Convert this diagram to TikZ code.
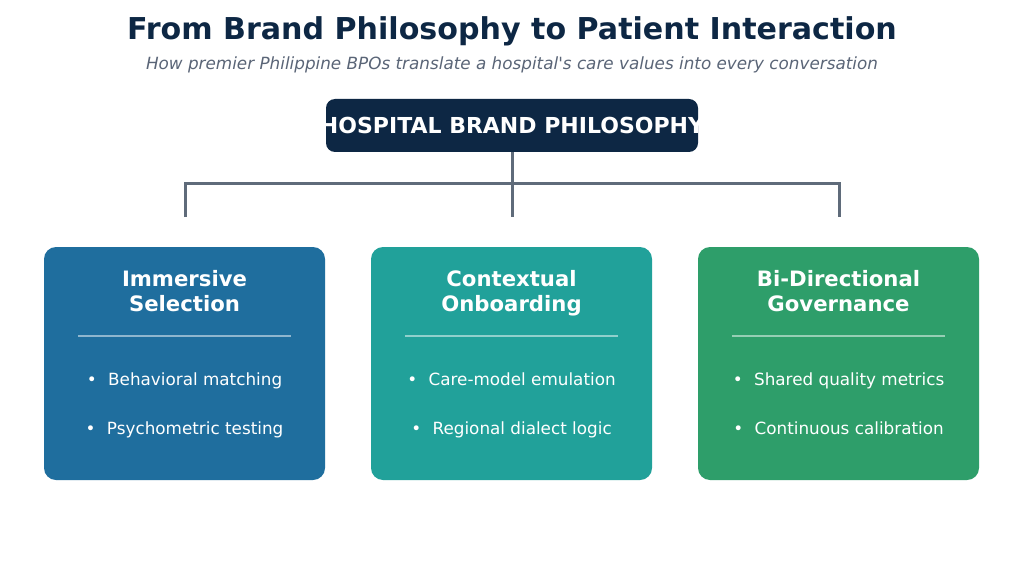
\documentclass[tikz,border=0pt]{standalone}
\usepackage{fontspec}
\setmainfont{DejaVu Sans}
\definecolor{navy}{HTML}{0D2744}
\definecolor{subgray}{HTML}{5A6577}
\definecolor{linegray}{HTML}{5F6B7A}
\definecolor{cblue}{HTML}{1F6E9E}
\definecolor{cteal}{HTML}{21A19A}
\definecolor{cgreen}{HTML}{2E9E6A}
\tikzset{
  card/.style={draw=none, rounded corners=12pt, minimum width=281pt, minimum height=233pt, inner sep=0pt},
  cardtitle/.style={text=white, font=\fontsize{21.2}{25}\selectfont\bfseries, align=center, anchor=base},
  bullet/.style={text=white, font=\fontsize{16.8}{19}\selectfont, anchor=base},
  divider/.style={draw=white, draw opacity=0.5, line width=1.8pt},
  conn/.style={draw=linegray, line width=3pt},
}
\newcommand{\bul}[1]{\textbullet\hspace{0.68em}#1}
\begin{document}
\begin{tikzpicture}[x=1pt,y=-1pt]
\useasboundingbox (0,0) rectangle (1024,564);
\fill[white] (0,0) rectangle (1024,564);
% title
\node[anchor=base, text=navy, font=\fontsize{30.1}{34}\selectfont\bfseries, inner sep=0pt] (title) at (512,40) {From Brand Philosophy to Patient Interaction};
\node[anchor=base, text=subgray, font=\fontsize{16.8}{19}\selectfont\itshape, inner sep=0pt] (sub) at (512,70) {How premier Philippine BPOs translate a hospital\textquotesingle s care values into every conversation};
% top box
\node[fill=navy, rounded corners=9pt, minimum width=372pt, minimum height=53pt, inner sep=0pt] (hb) at (512,125.5) {};
\begin{scope}
\clip[rounded corners=9pt] (hb.south west) rectangle (hb.north east);
\node[anchor=base, text=white, font=\fontsize{22}{26}\selectfont\bfseries, inner sep=0pt] (hbt) at (512,133.3) {HOSPITAL BRAND PHILOSOPHY};
\end{scope}
% cards
\node[card, fill=cblue] (c1) at (184.5,363.5) {};
\node[card, fill=cteal] (c2) at (511.5,363.5) {};
\node[card, fill=cgreen] (c3) at (838.5,363.5) {};
% connectors
\coordinate (l) at (185,183);
\coordinate (r) at (839,183);
\coordinate (d1) at (185,217);
\coordinate (d2) at (512,217);
\coordinate (d3) at (839,217);
\draw[conn] (hb.south) -- (d2);
\draw[conn] (d1) -- (l) -- (r) -- (d3);
% card contents
\foreach \c/\a/\b/\p/\q in {c1/Immersive/Selection/Behavioral matching/Psychometric testing,
                            c2/Contextual/Onboarding/Care-model emulation/Regional dialect logic,
                            c3/Bi-Directional/Governance/Shared quality metrics/Continuous calibration}{
  \node[cardtitle] (\c t1) at ([yshift=-39.7pt]\c.north) {\a};
  \node[cardtitle] (\c t2) at ([yshift=-64.7pt]\c.north) {\b};
  \draw[divider] ([xshift=34pt,yshift=-89.5pt]\c.north west) -- ([xshift=-34pt,yshift=-89.5pt]\c.north east);
  \node[bullet] (\c b1) at ([yshift=-139pt]\c.north) {\bul{\p}};
  \node[bullet] (\c b2) at ([yshift=-187.5pt]\c.north) {\bul{\q}};
}
\end{tikzpicture}
\end{document}
